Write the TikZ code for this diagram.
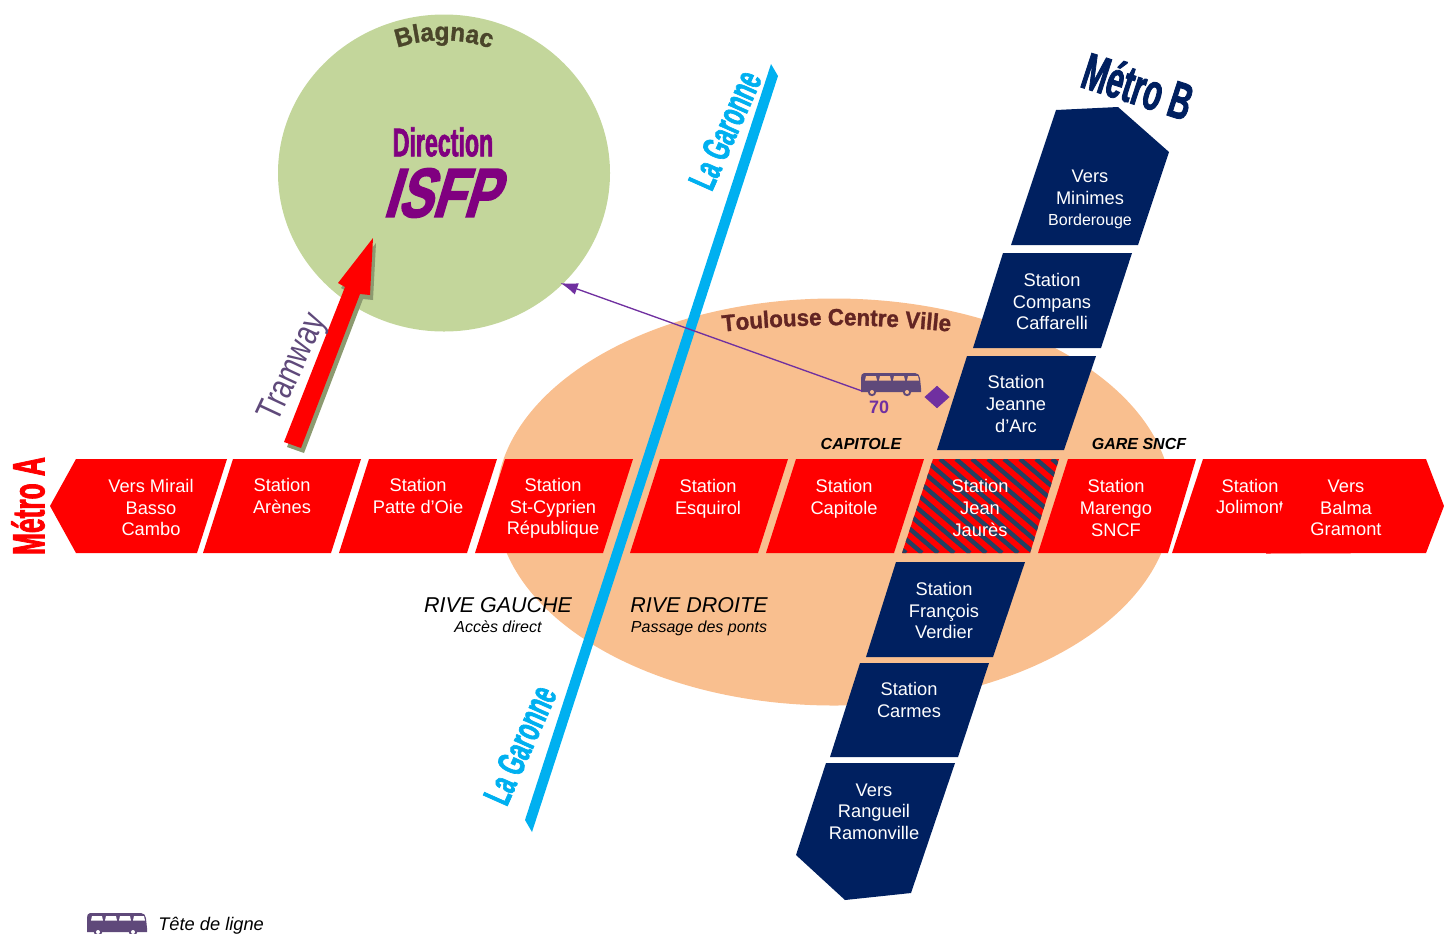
\documentclass[tikz,border=0pt]{standalone}
\usepackage{fontspec}
\setmainfont{Liberation Sans}
\setsansfont{Liberation Sans}
\newfontfamily\impactfont[FakeStretch=0.58,FakeBold=1.6]{Liberation Sans Bold}
\newfontfamily\isfpfont[FakeStretch=0.74,FakeSlant=0.3,FakeBold=2.5]{Liberation Sans Bold}
\newfontfamily\narrowfont[FakeStretch=0.78]{Liberation Sans}
\newfontfamily\archfont[FakeStretch=0.95,FakeBold=1.2]{Liberation Sans Bold}
\usetikzlibrary{shapes.geometric,arrows.meta,decorations.text}
\definecolor{metroRed}{HTML}{FF0000}
\definecolor{metroBlue}{HTML}{002060}
\definecolor{stripeBlue}{HTML}{244061}
\definecolor{riverBlue}{HTML}{00B0F0}
\definecolor{centreOrange}{HTML}{F9BF8F}
\definecolor{blagnacGreen}{HTML}{C3D69B}
\definecolor{arrowShadow}{HTML}{8C9A70}
\definecolor{busPurple}{HTML}{5F497A}
\definecolor{linePurple}{HTML}{7030A0}
\definecolor{isfpPurple}{HTML}{800080}
\definecolor{blagnacDark}{HTML}{4A452A}
\definecolor{villeDark}{HTML}{632523}
\tikzset{pics/busicon/.style={code={
    \fill [busPurple] (3,0) -- (54,0) to[out=0,in=100] (60,15) -- (60,19) -- (0,19) -- (0,5) to[out=90,in=180] (3,0) -- cycle;
    \foreach \wx in {5,19,33,47} {
      \fill [#1] (\wx,3) -- (\wx+10,3) -- (\wx+11,7.5) -- (\wx-1,7.5) -- cycle;
    }
    \foreach \wx in {11,46} {
      \fill [busPurple] (\wx,19) circle (4.2);
      \fill [#1] (\wx,19) circle (2);
    }
    \coordinate (-door) at (1,18);
}}}

\begin{document}
\begin{tikzpicture}[x=0.75pt, y=-0.75pt,
    redbox/.style={fill=metroRed},
    bluebox/.style={fill=metroBlue},
    stationtext/.style={align=center, text=white, inner sep=0pt,
      font=\fontsize{13.7}{16.2}\selectfont},
    railtext/.style={align=center, inner sep=0pt, text=black,
      font=\fontsize{12}{15}\selectfont\bfseries\itshape},
    rivetext/.style={align=center, inner sep=0pt, text=black,
      font=\fontsize{16.1}{20}\selectfont\itshape},
    subtext/.style={align=center, inner sep=0pt, text=black,
      font=\fontsize{12}{14}\selectfont\itshape},
    garonne/.style={inner sep=0pt, text=riverBlue, font=\fontsize{29}{29}\selectfont\impactfont},
    line/.style={draw=linePurple, line width=1pt, shorten >=-2pt, -{Latex[length=13pt,width=9pt]}}]
    \useasboundingbox (0,0) rectangle (1444,933);

    % areas
    \node [ellipse, fill=centreOrange, inner sep=0pt, minimum width=676*0.75pt, minimum height=407*0.75pt] (centreVille) at (834,502) {};
    \node [ellipse, fill=blagnacGreen, inner sep=0pt, minimum width=332*0.75pt, minimum height=317*0.75pt] (blagnac) at (444,173) {};
    \fill [riverBlue] (771,64) -- (778,76) -- (532,832) -- (525,820) -- cycle;

    % metro A
    \fill [redbox] (50,506) -- (76,459) -- (227,459) -- (197,553) -- (76,553) -- cycle;
    \fill [redbox] (233,459) -- (361,459) -- (331,553) -- (203,553) -- cycle;
    \fill [redbox] (369,459) -- (497,459) -- (467,553) -- (339,553) -- cycle;
    \fill [redbox] (505,459) -- (633,459) -- (603,553) -- (475,553) -- cycle;
    \fill [redbox] (660,459) -- (788,459) -- (758,553) -- (630,553) -- cycle;
    \fill [redbox] (796,459) -- (924,459) -- (894,553) -- (766,553) -- cycle;
    \fill [redbox] (933,459) -- (1059,459) -- (1030,553) -- (902,553) -- cycle;
    \begin{scope}
      \clip (933,459) -- (1059,459) -- (1030,553) -- (902,553) -- cycle;
      \foreach \sx in {780,796,...,1060} {
        \draw [stripeBlue, line width=3.3pt] (\sx,459) -- (\sx+110,553);
      }
    \end{scope}
    \fill [redbox] (1068,459) -- (1196,459) -- (1168,553) -- (1038,553) -- cycle;
    \fill [redbox] (1203,459) -- (1331,459) -- (1301,553) -- (1172,553) -- cycle;

    \node [stationtext] (mirail) at (151,507.5) {Vers Mirail\\Basso\\Cambo};
    \node [stationtext] (arenes) at (282,496) {Station\\Arènes};
    \node [stationtext] (patte) at (418,496) {Station\\Patte d'Oie};
    \node [stationtext] (cyprien) at (553,508.5) {Station\\St-Cyprien\\République};
    \node [stationtext] (esquirol) at (708,498.5) {Station\\Esquirol};
    \node [stationtext] (capitole) at (844,498.5) {Station\\Capitole};
    \node [stationtext] (jaures) at (980,508) {Station\\Jean\\Jaurès};
    \node [stationtext] (marengo) at (1116,508) {Station\\Marengo\\SNCF};
    \node [stationtext] (jolimont) at (1250,496.5) {Station\\Jolimont};
    % covers the end of the previous text
    \fill [redbox] (1298,459) -- (1426,459) -- (1444,506) -- (1426,553) -- (1266,553.5) -- cycle;
    \node [stationtext] (balma) at (1346,508) {Vers\\Balma\\Gramont};

    % metro B
    \fill [bluebox] (1056,110) -- (1118,107) -- (1169,152) -- (1138,245) -- (1011,245) -- cycle;
    \fill [bluebox] (1003,253) -- (1132,253) -- (1101,348) -- (973,348) -- cycle;
    \fill [bluebox] (967,356) -- (1096,356) -- (1064,450) -- (937,450) -- cycle;
    \fill [bluebox] (896,562) -- (1025,562) -- (993,657) -- (866,657) -- cycle;
    \fill [bluebox] (860,663) -- (989,663) -- (958,757) -- (830,757) -- cycle;
    \fill [bluebox] (826,763) -- (955,763) -- (911,893) -- (845,900) -- (796,855) -- cycle;

    \node [stationtext] (minimes) at (1090,199.5) {Vers\\Minimes\\{\fontsize{12}{16.2}\selectfont Borderouge}};
    \node [stationtext] (compans) at (1052,301.5) {Station\\Compans\\Caffarelli};
    \node [stationtext] (jeanne) at (1016,404) {Station\\Jeanne\\d’Arc};
    \node [stationtext] (verdier) at (944,610.5) {Station\\François\\Verdier};
    \node [stationtext] (carmes) at (909,700) {Station\\Carmes};
    \node [stationtext] (rangueil) at (874,811.5) {Vers\\Rangueil\\Ramonville};

    % bus and isfp link
    \pic (busline) at (861,373) {busicon=centreOrange};
    \path [line] (busline-door) -- (blagnac.-43);
    \node [diamond, fill=linePurple, inner sep=0pt, minimum width=19pt, minimum height=17pt] (arret) at (937,397) {};
    \node [inner sep=0pt, text=linePurple, font=\fontsize{13.5}{16}\selectfont\bfseries] (bus70) at (879,407) {70};

    % tramway arrow
    \fill [arrowShadow, shift={(3,5)}] (284,442) -- (345,287) -- (338,283) -- (373,238) -- (370,295) -- (360,294) -- (301,448) -- cycle;
    \fill [metroRed] (284,442) -- (345,287) -- (338,283) -- (373,238) -- (370,295) -- (360,294) -- (301,448) -- cycle;
    \node [rotate=65, inner sep=0pt, text=busPurple, font=\fontsize{27}{27}\selectfont\narrowfont] (tramway) at (294,368) {Tramway};

    % titles
    \node [rotate=90, inner sep=0pt, text=metroRed, font=\fontsize{34}{34}\selectfont\impactfont] (metroA) at (28,506) {Métro A};
    \node [rotate=-18, inner sep=0pt, text=metroBlue, font=\fontsize{39}{39}\selectfont\impactfont] (metroB) at (1138,86) {Métro B};
    \node [rotate=66, garonne] (garonneHaut) at (725,130) {La Garonne};
    \node [rotate=66, garonne] (garonneBas) at (520,745) {La Garonne};
    \node [inner sep=0pt, text=isfpPurple, font=\fontsize{30}{30}\selectfont\impactfont] (direction) at (443,142) {Direction};
    \node [inner sep=0pt, text=isfpPurple, font=\fontsize{52}{52}\selectfont\isfpfont] (isfp) at (440,193) {ISFP};
    \path [decorate, decoration={text along path, text align=center,
      text={|\fontsize{19.3}{20}\selectfont\archfont\color{blagnacDark}|Blagnac}}]
      (391,50) .. controls (425,37) and (463,37) .. (497,51);
    \path [decorate, decoration={text along path, text align=center,
      text={|\fontsize{17.6}{20}\selectfont\archfont\color{villeDark}|Toulouse Centre Ville}}]
      (720,332) .. controls (800,323) and (870,323) .. (953,332);

    % side labels
    \node [railtext] (railCapitole) at (861,444) {CAPITOLE};
    \node [railtext] (railGare) at (1139,444) {GARE SNCF};
    \node [rivetext] (riveGauche) at (498,605) {RIVE GAUCHE};
    \node [subtext] (acces) at (498,627) {Accès direct};
    \node [rivetext] (riveDroite) at (699,605) {RIVE DROITE};
    \node [subtext] (passage) at (699,628) {Passage des ponts};

    % legend
    \pic (busleg) at (87,913) {busicon=white};
    \node [anchor=west, inner sep=0pt, text=black, font=\fontsize{13.7}{16}\selectfont\itshape] (legende) at (158,926) {Tête de ligne};
\end{tikzpicture}
\end{document}
